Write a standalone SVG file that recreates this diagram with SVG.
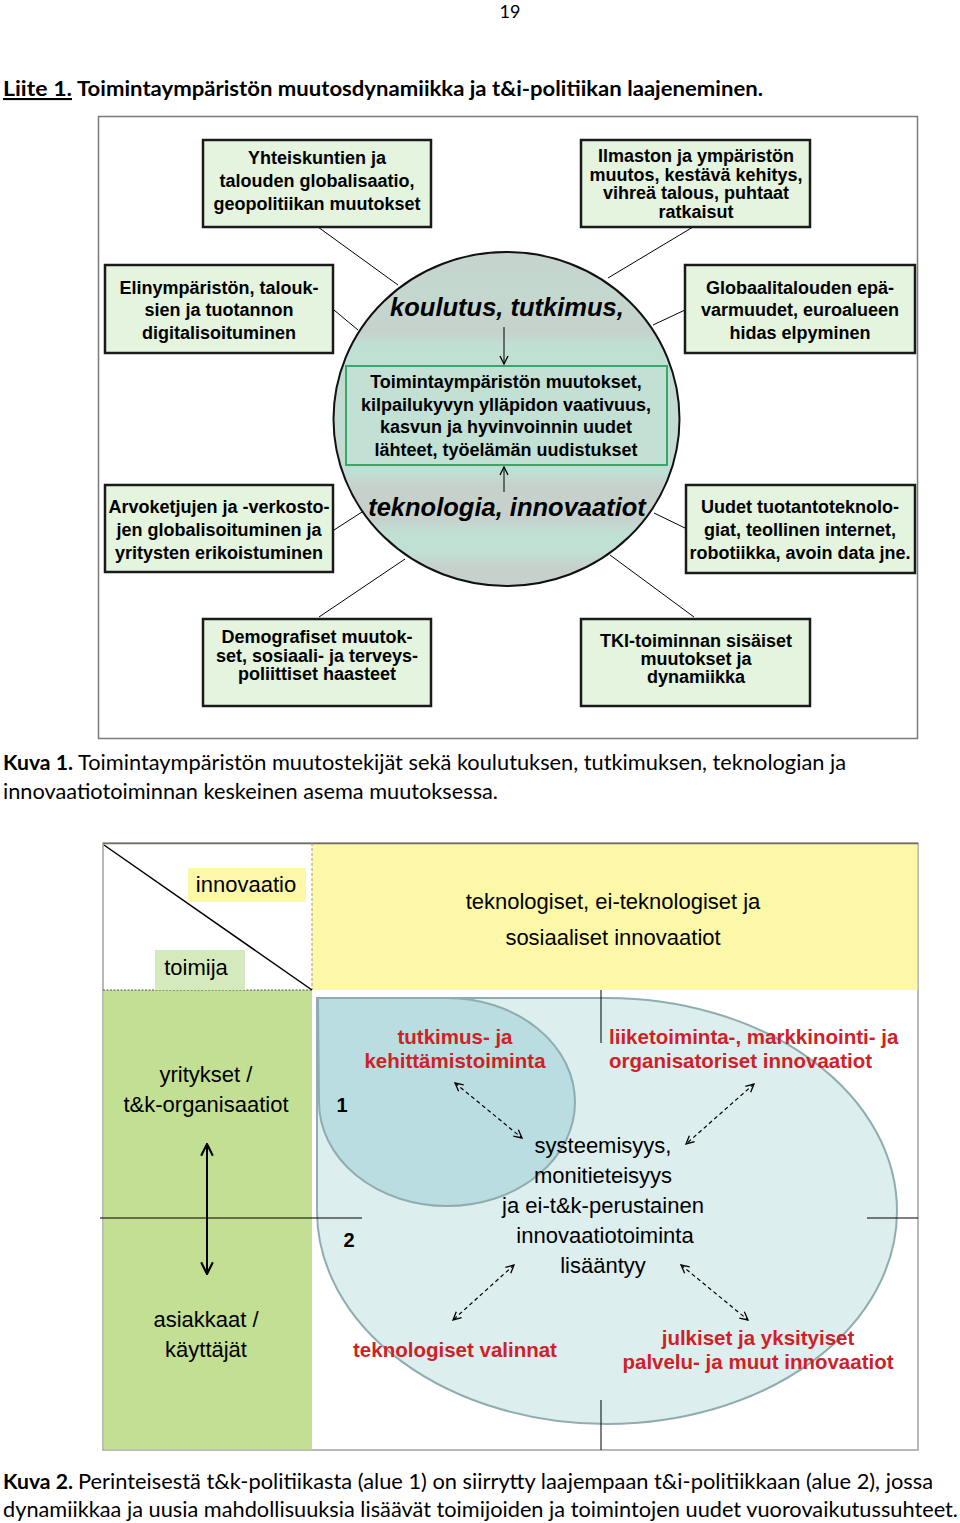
<svg xmlns="http://www.w3.org/2000/svg" width="960" height="1523" viewBox="0 0 960 1523">
<defs>
<style>
.cap{font-family:"Lato","Liberation Sans",sans-serif;font-size:21px;fill:#000}
.b{font-weight:bold}
.bx{fill:#e4f4df;stroke:#1a1a1a;stroke-width:2.5}
.bt{font-family:"Liberation Sans",Arial,sans-serif;font-weight:bold;font-size:18px;text-anchor:middle;fill:#000}
.big{font-family:"Liberation Sans",Arial,sans-serif;font-weight:bold;font-style:italic;font-size:25.5px;text-anchor:middle;fill:#000}
.ln{stroke:#000;stroke-width:1;fill:none}
.t2{font-family:"Liberation Sans",Arial,sans-serif;font-size:22px;fill:#000;text-anchor:middle}
.red{font-family:"Liberation Sans",Arial,sans-serif;font-size:20.5px;font-weight:bold;fill:#d01f27;text-anchor:middle}
.dash{stroke:#000;stroke-width:1.2;fill:none;stroke-dasharray:4 3}
</style>
<linearGradient id="circ" gradientUnits="userSpaceOnUse" x1="0" y1="252" x2="0" y2="586">
<stop offset="0" stop-color="#c6d3cd"/>
<stop offset="0.12" stop-color="#c4d8cf"/>
<stop offset="0.24" stop-color="#c6d1cc"/>
<stop offset="0.28" stop-color="#c0e0d4"/>
<stop offset="0.34" stop-color="#c0e0d4"/>
<stop offset="0.4" stop-color="#c4dbd2"/>
<stop offset="0.62" stop-color="#c4dbd2"/>
<stop offset="0.66" stop-color="#c0e0d4"/>
<stop offset="0.7" stop-color="#c6d1cc"/>
<stop offset="0.8" stop-color="#c6d1cc"/>
<stop offset="0.84" stop-color="#c0e0d4"/>
<stop offset="0.9" stop-color="#c0e0d4"/>
<stop offset="0.94" stop-color="#c6d1cc"/>
<stop offset="1" stop-color="#c6d1cc"/>
</linearGradient>
<marker id="ah" viewBox="0 0 10 10" refX="9" refY="5" markerWidth="10" markerHeight="10" markerUnits="userSpaceOnUse" orient="auto-start-reverse">
<path d="M1,1 L9,5 L1,9" fill="none" stroke="#000" stroke-width="1.3"/>
</marker>
<marker id="ah2" viewBox="0 0 12 12" refX="11" refY="6" markerWidth="14" markerHeight="14" markerUnits="userSpaceOnUse" orient="auto-start-reverse">
<path d="M1,1 L11,6 L1,11" fill="none" stroke="#000" stroke-width="1.8"/>
</marker>
</defs>
<rect width="960" height="1523" fill="#fff"/>

<!-- header -->
<text x="510" y="18" font-family="Lato,'Liberation Sans',sans-serif" font-size="18" text-anchor="middle">19</text>
<text class="cap b" x="3" y="96" textLength="69" lengthAdjust="spacingAndGlyphs" text-decoration="underline">Liite 1.</text>
<text class="cap b" x="77" y="96" textLength="686" lengthAdjust="spacingAndGlyphs">Toimintaympäristön muutosdynamiikka ja t&amp;i-politiikan laajeneminen.</text>

<!-- Figure 1 frame -->
<rect x="98.5" y="116.5" width="819" height="622" fill="#fff" stroke="#7a7a7a" stroke-width="1.5"/>

<g id="fig1-connectors">
<line class="ln" x1="318" y1="227" x2="398" y2="285"/>
<line class="ln" x1="334" y1="310" x2="358" y2="330"/>
<line class="ln" x1="693" y1="227" x2="608" y2="278"/>
<line class="ln" x1="685" y1="310" x2="653" y2="325"/>
<line class="ln" x1="334" y1="530" x2="362" y2="512"/>
<line class="ln" x1="319" y1="617" x2="405" y2="559"/>
<line class="ln" x1="685" y1="528" x2="654" y2="513"/>
<line class="ln" x1="694" y1="617" x2="610" y2="555"/>
</g>

<g id="circle">
<ellipse cx="506.5" cy="419" rx="173" ry="167" fill="url(#circ)" stroke="#111" stroke-width="2"/>
<text class="big" x="507" y="316">koulutus, tutkimus,</text>
<rect x="346" y="366" width="321" height="99" fill="#c3e0d5" stroke="#3aa66a" stroke-width="2"/>
<text class="bt" x="506" y="388">Toimintaympäristön muutokset,</text>
<text class="bt" x="506" y="410.5">kilpailukyvyn ylläpidon vaativuus,</text>
<text class="bt" x="506" y="433">kasvun ja hyvinvoinnin uudet</text>
<text class="bt" x="506" y="455.5">lähteet, työelämän uudistukset</text>
<text class="big" x="507" y="516">teknologia, innovaatiot</text>
<line class="ln" x1="504" y1="327" x2="504" y2="364" marker-end="url(#ah)"/>
<line class="ln" x1="504" y1="492" x2="504" y2="467" marker-end="url(#ah)"/>
</g>

<g id="box-tl">
<rect class="bx" x="203" y="140" width="228" height="87"/>
<text class="bt" x="317" y="164">Yhteiskuntien ja</text>
<text class="bt" x="317" y="187">talouden globalisaatio,</text>
<text class="bt" x="317" y="210">geopolitiikan muutokset</text>
</g>
<g id="box-tr">
<rect class="bx" x="581" y="140" width="229" height="87"/>
<text class="bt" x="696" y="162">Ilmaston ja ympäristön</text>
<text class="bt" x="696" y="180.5">muutos, kestävä kehitys,</text>
<text class="bt" x="696" y="199">vihreä talous, puhtaat</text>
<text class="bt" x="696" y="217.5">ratkaisut</text>
</g>
<g id="box-ml">
<rect class="bx" x="105" y="265" width="228" height="88"/>
<text class="bt" x="219" y="294">Elinympäristön, talouk-</text>
<text class="bt" x="219" y="316">sien ja tuotannon</text>
<text class="bt" x="219" y="339">digitalisoituminen</text>
</g>
<g id="box-mr">
<rect class="bx" x="685" y="265" width="230" height="88"/>
<text class="bt" x="800" y="294">Globaalitalouden epä-</text>
<text class="bt" x="800" y="316">varmuudet, euroalueen</text>
<text class="bt" x="800" y="339">hidas elpyminen</text>
</g>
<g id="box-ll">
<rect class="bx" x="105" y="485" width="228" height="87"/>
<text class="bt" x="219" y="513">Arvoketjujen ja -verkosto-</text>
<text class="bt" x="219" y="536">jen globalisoituminen ja</text>
<text class="bt" x="219" y="559">yritysten erikoistuminen</text>
</g>
<g id="box-lr">
<rect class="bx" x="686" y="485" width="229" height="88"/>
<text class="bt" x="800" y="513">Uudet tuotantoteknolo-</text>
<text class="bt" x="800" y="536">giat, teollinen internet,</text>
<text class="bt" x="800" y="559">robotiikka, avoin data jne.</text>
</g>
<g id="box-bl">
<rect class="bx" x="203" y="619" width="228" height="87"/>
<text class="bt" x="317" y="643">Demografiset muutok-</text>
<text class="bt" x="317" y="661.5">set, sosiaali- ja terveys-</text>
<text class="bt" x="317" y="680">poliittiset haasteet</text>
</g>
<g id="box-br">
<rect class="bx" x="581" y="619" width="229" height="87"/>
<text class="bt" x="696" y="647">TKI-toiminnan sisäiset</text>
<text class="bt" x="696" y="665">muutokset ja</text>
<text class="bt" x="696" y="683">dynamiikka</text>
</g>

<!-- Caption 1 -->
<text class="cap b" x="3" y="770" textLength="70" lengthAdjust="spacingAndGlyphs">Kuva 1.</text>
<text class="cap" x="78" y="770" textLength="768" lengthAdjust="spacingAndGlyphs">Toimintaympäristön muutostekijät sekä koulutuksen, tutkimuksen, teknologian ja</text>
<text class="cap" x="3" y="799" textLength="495" lengthAdjust="spacingAndGlyphs">innovaatiotoiminnan keskeinen asema muutoksessa.</text>

<!-- Figure 2 -->
<g id="fig2-background">
<rect x="103" y="843" width="815" height="607" fill="#fff" stroke="#8a8a8a" stroke-width="1.2"/>
<rect x="312" y="843.6" width="605.4" height="146.4" fill="#fcf8a8"/>
<rect x="103.6" y="990" width="208.4" height="459.4" fill="#c3df93"/>
<line x1="103" y1="843.5" x2="918" y2="843.5" stroke="#6e6e5e" stroke-width="1.5"/>
<line x1="312" y1="843" x2="312" y2="990" stroke="#999" stroke-width="1" stroke-dasharray="3 2"/>
<line x1="103" y1="990" x2="312" y2="990" stroke="#555" stroke-width="1.2" stroke-dasharray="2 1.5"/>
<line x1="104" y1="845" x2="312" y2="990" stroke="#000" stroke-width="1.5"/>
</g>

<g id="label-innovaatio">
<rect x="188" y="868" width="118" height="34" fill="#fcf8a8"/>
<text class="t2" x="246" y="892">innovaatio</text>
</g>
<g id="label-toimija">
<rect x="155" y="950" width="90" height="40" fill="#d5eabc"/>
<text class="t2" x="196" y="975">toimija</text>
</g>
<g id="innovations-header">
<text class="t2" x="613" y="909">teknologiset, ei-teknologiset ja</text>
<text class="t2" x="613" y="945">sosiaaliset innovaatiot</text>
</g>

<g id="area2">
<path d="M317,998 L607,998 A290,213 0 0 1 897,1211 A290,213 0 0 1 607,1424 A290,213 0 0 1 317,1211 Z" fill="#dceeee" stroke="#8fadb0" stroke-width="2"/>
</g>
<g id="area1">
<path d="M318,998 L447,998 A128,104 0 0 1 575,1102 A128,104 0 0 1 447,1206 A128,104 0 0 1 319,1102 Z" fill="#b9dde0" stroke="#8fadb0" stroke-width="2"/>
</g>

<g id="axes">
<line x1="601" y1="990" x2="601" y2="1043" stroke="#000" stroke-width="1"/>
<line x1="601" y1="1400" x2="601" y2="1450" stroke="#000" stroke-width="1"/>
<line x1="100" y1="1218" x2="362" y2="1218" stroke="#000" stroke-width="1"/>
<line x1="867" y1="1218" x2="918" y2="1218" stroke="#000" stroke-width="1"/>
</g>

<g id="actors">
<text class="t2" x="206" y="1082">yritykset /</text>
<text class="t2" x="206" y="1112">t&amp;k-organisaatiot</text>
<text class="t2" x="206" y="1327">asiakkaat /</text>
<text class="t2" x="206" y="1357">käyttäjät</text>
</g>

<g id="area-numbers">
<text x="342" y="1112" font-family="Liberation Sans,Arial,sans-serif" font-weight="bold" font-size="20" text-anchor="middle">1</text>
<text x="349" y="1247" font-family="Liberation Sans,Arial,sans-serif" font-weight="bold" font-size="20" text-anchor="middle">2</text>
</g>

<g id="node-tk">
<text class="red" x="455" y="1044">tutkimus- ja</text>
<text class="red" x="455" y="1068">kehittämistoiminta</text>
</g>
<g id="node-liike">
<text class="red" x="609" y="1044" style="text-anchor:start">liiketoiminta-, markkinointi- ja</text>
<text class="red" x="609" y="1068" style="text-anchor:start">organisatoriset innovaatiot</text>
</g>
<g id="node-center">
<text class="t2" x="603" y="1153">systeemisyys,</text>
<text class="t2" x="603" y="1183">monitieteisyys</text>
<text class="t2" x="603" y="1213">ja ei-t&amp;k-perustainen</text>
<text class="t2" x="605" y="1243">innovaatiotoiminta</text>
<text class="t2" x="603" y="1273">lisääntyy</text>
</g>
<g id="node-tekn">
<text class="red" x="455" y="1357">teknologiset valinnat</text>
</g>
<g id="node-julk">
<text class="red" x="758" y="1345">julkiset ja yksityiset</text>
<text class="red" x="758" y="1369">palvelu- ja muut innovaatiot</text>
</g>

<g id="fig2-connectors">
<line x1="207" y1="1144" x2="207" y2="1274" stroke="#000" stroke-width="2" marker-start="url(#ah2)" marker-end="url(#ah2)"/>
<line class="dash" x1="455" y1="1083" x2="522" y2="1138" marker-start="url(#ah)" marker-end="url(#ah)"/>
<line class="dash" x1="754" y1="1084" x2="686" y2="1144" marker-start="url(#ah)" marker-end="url(#ah)"/>
<line class="dash" x1="514" y1="1265" x2="453" y2="1320" marker-start="url(#ah)" marker-end="url(#ah)"/>
<line class="dash" x1="681" y1="1265" x2="748" y2="1320" marker-start="url(#ah)" marker-end="url(#ah)"/>
</g>

<!-- Caption 2 -->
<text class="cap b" x="3" y="1489" textLength="70" lengthAdjust="spacingAndGlyphs">Kuva 2.</text>
<text class="cap" x="78" y="1489" textLength="855" lengthAdjust="spacingAndGlyphs">Perinteisestä t&amp;k-politiikasta (alue 1) on siirrytty laajempaan t&amp;i-politiikkaan (alue 2), jossa</text>
<text class="cap" x="3" y="1517" textLength="955" lengthAdjust="spacingAndGlyphs">dynamiikkaa ja uusia mahdollisuuksia lisäävät toimijoiden ja toimintojen uudet vuorovaikutussuhteet.</text>
</svg>
